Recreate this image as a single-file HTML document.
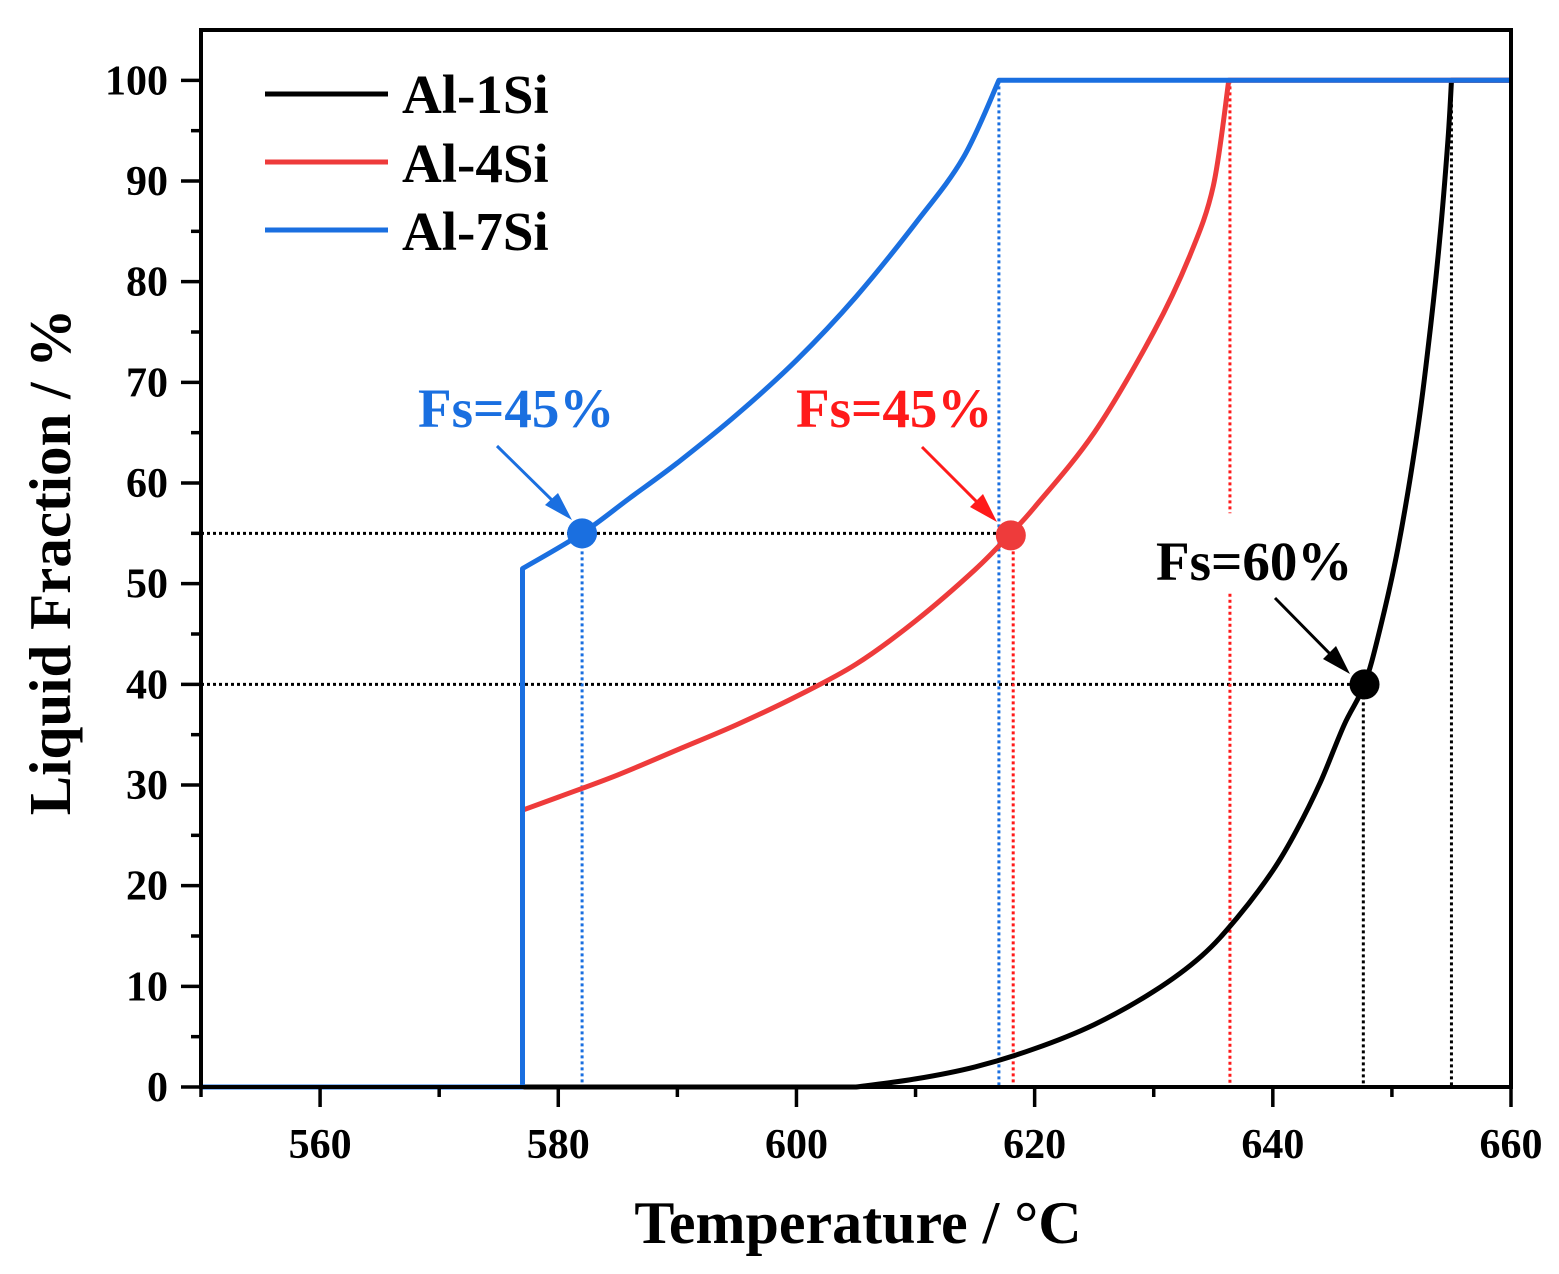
<!DOCTYPE html>
<html><head><meta charset="utf-8"><style>
html,body{margin:0;padding:0;background:#fff;}
svg text{font-family:"Liberation Serif",serif;font-weight:bold;}
</style></head><body>
<svg id="chart" width="1559" height="1274" viewBox="0 0 1559 1274" xmlns="http://www.w3.org/2000/svg" style="position:absolute;left:0;top:0">
<g id="plot"></g>
</svg>
<script>
const xTicks=[560,580,600,620,640,660];
const yTicks=[0,10,20,30,40,50,60,70,80,90,100];
const al1T=[550,605,610,615,620,625,630,634,637,640,642,644,646,647.7,649,650.5,652,653,654,654.7,655,660];
const al1V=[0,0,0.8,2,3.8,6.2,9.5,13,16.8,21.5,25.5,30.3,36,40,45.5,53.5,64,73,84,94,100,100];
const al4T=[550,577,577,580,585,590,595,600,605,610,615,618,620,625,630,633,635,636.3,660];
const al4V=[0,0,27.5,28.8,31,33.5,36,38.8,42,46.3,51.4,55,57.6,65,75,82.5,89.5,100,100];
const al7T=[550,577,577,582,586,590,595,600,605,610,614,617,660];
const al7V=[0,0,51.5,55,58.5,62,66.8,72.2,78.5,85.8,92.3,100,100];
const markT=[582,618,647.7];
const markV=[55,54.8,40];
const X0=201,X1=1511,Y0=1087,Y1=30;
function sx(t){return X0+(t-550)/(660-550)*(X1-X0);}
function sy(v){return Y0-v/105*(Y0-Y1);}
const NS="http://www.w3.org/2000/svg";
const g=document.getElementById('plot');
function el(tag,attrs,parent){const e=document.createElementNS(NS,tag);for(const k in attrs)e.setAttribute(k,attrs[k]);(parent||g).appendChild(e);return e;}
function dotted(x1,y1,x2,y2,c,name){const l=el('line',{x1:x1,y1:y1,x2:x2,y2:y2,stroke:c,'stroke-width':3,'stroke-dasharray':'3 3'});

}
dotted(X0,sy(55),sx(617),sy(55),'#000','guide-55');
dotted(X0,sy(40),sx(647.7),sy(40),'#000','guide-40');
dotted(sx(582),sy(55),sx(582),Y0,'#1a6fe0','guide-blue-582');
dotted(sx(617),sy(100),sx(617),Y0,'#1a6fe0','guide-blue-617');
dotted(sx(618.2),sy(55),sx(618.2),Y0,'#ff1a1a','guide-red-618');
dotted(sx(636.4),sy(100),sx(636.4),sy(57),'#ff1a1a','guide-red-636-top');
dotted(sx(636.4),sy(49),sx(636.4),Y0,'#ff1a1a','guide-red-636-bottom');
dotted(sx(647.6),sy(40),sx(647.6),Y0,'#000','guide-black-647');
dotted(sx(655),sy(100),sx(655),Y0,'#000','guide-black-655');
function series(T,V,c,name){
  const P=T.map((t,i)=>[sx(t),sy(V[i])]);
  let d='M'+P[0][0].toFixed(1)+','+P[0][1].toFixed(1);
  for(let i=0;i<P.length-1;i++){
    const p0=P[i],p1=P[i+1];
    const flat=(Math.abs(p0[1]-p1[1])<0.01)||(Math.abs(p0[0]-p1[0])<0.01);
    const prev=P[i-1],next=P[i+2];
    const sharpPrev=!prev||Math.abs(prev[1]-p0[1])<0.01||Math.abs(prev[0]-p0[0])<0.01;
    const sharpNext=!next||Math.abs(next[1]-p1[1])<0.01||Math.abs(next[0]-p1[0])<0.01;
    if(flat){d+='L'+p1[0].toFixed(1)+','+p1[1].toFixed(1);continue;}
    const a=sharpPrev?p0:prev, b=sharpNext?p1:next;
    const c1=[p0[0]+(p1[0]-a[0])/6,p0[1]+(p1[1]-a[1])/6];
    const c2=[p1[0]-(b[0]-p0[0])/6,p1[1]-(b[1]-p0[1])/6];
    d+='C'+c1[0].toFixed(1)+','+c1[1].toFixed(1)+' '+c2[0].toFixed(1)+','+c2[1].toFixed(1)+' '+p1[0].toFixed(1)+','+p1[1].toFixed(1);
  }
  const p=el('path',{d:d,fill:'none',stroke:c,'stroke-width':5,'stroke-linejoin':'round'});
  
  }
series(al1T,al1V,'#000','series-al-1si');
series(al4T,al4V,'#ee3b3b','series-al-4si');
series(al7T,al7V,'#1a6fe0','series-al-7si');
const mc=['#1a6fe0','#ee3b3b','#000'];
for(let i=0;i<markT.length;i++){const c=el('circle',{cx:sx(markT[i]),cy:sy(markV[i]),r:15,fill:mc[i]});

}
const f=el('rect',{x:X0,y:Y1,width:X1-X0,height:Y0-Y1,fill:'none',stroke:'#000','stroke-width':4});


for(let t=550;t<=660;t+=10){const major=xTicks.includes(t);const l=el('line',{x1:sx(t),y1:Y0,x2:sx(t),y2:Y0+(major?20:10),stroke:'#000','stroke-width':3.5});

}
xTicks.forEach(t=>{const tx=el('text',{x:sx(t),y:1158,'font-size':42,'text-anchor':'middle'});tx.textContent=t;

});
for(let v=0;v<=100;v+=5){const major=v%10===0;const l=el('line',{x1:X0,y1:sy(v),x2:X0-(major?20:10),y2:sy(v),stroke:'#000','stroke-width':3.5});

}
yTicks.forEach(v=>{const tx=el('text',{x:168,y:sy(v)+14,'font-size':42,'text-anchor':'end'});tx.textContent=v;

});
</script>
<svg style="position:absolute;left:0;top:0" width="1559" height="1274">
<g>
<line x1="265" y1="94" x2="388" y2="94" stroke="#000" stroke-width="5"/>
<text x="402" y="113" font-size="55">Al-1Si</text>
<line x1="265" y1="162" x2="388" y2="162" stroke="#ee3b3b" stroke-width="5"/>
<text x="402" y="182" font-size="55">Al-4Si</text>
<line x1="265" y1="230" x2="388" y2="230" stroke="#1a6fe0" stroke-width="5"/>
<text x="402" y="250" font-size="55">Al-7Si</text>
</g>
<text x="418" y="427" font-size="55" fill="#1a6fe0">Fs=45%</text>
<line x1="497" y1="446" x2="560" y2="508" stroke="#1a6fe0" stroke-width="3"/>
<polygon points="572,520 545,505 558,493" fill="#1a6fe0"/>
<text x="796" y="427" font-size="55" fill="#ff1a1a">Fs=45%</text>
<line x1="922" y1="447" x2="985" y2="510" stroke="#ff1a1a" stroke-width="3"/>
<polygon points="997,522 970,507 983,494" fill="#ff1a1a"/>
<text x="1156" y="580" font-size="55" fill="#000">Fs=60%</text>
<line x1="1275" y1="598" x2="1338" y2="662" stroke="#000" stroke-width="3"/>
<polygon points="1350,674 1323,659 1336,646" fill="#000"/>
<text x="858" y="1243" font-size="60" text-anchor="middle">Temperature / °C</text>
<text transform="translate(70,562) rotate(-90)" font-size="59" text-anchor="middle">Liquid Fraction / %</text>
</svg>
</body></html>
